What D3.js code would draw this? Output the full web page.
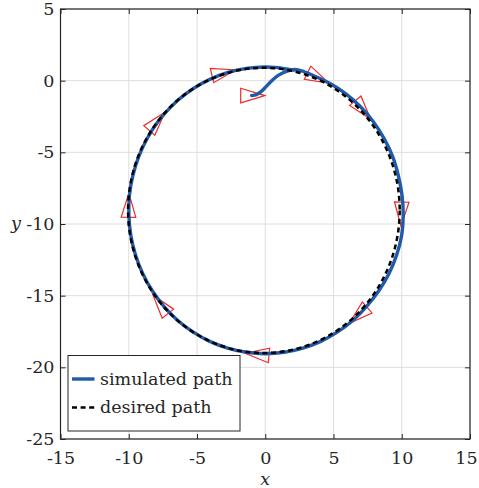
<!DOCTYPE html>
<html>
<head>
<meta charset="utf-8">
<script src="https://cdn.jsdelivr.net/npm/d3@7"></script>
<style>
  body { margin: 0; background: #fff; }
  text { font-family: "DejaVu Serif", "Liberation Serif", serif; }
</style>
</head>
<body>
<script>
// axis ticks
var xTicks = [-15, -10, -5, 0, 5, 10, 15];
var yTicks = [-25, -20, -15, -10, -5, 0, 5];

// desired path is a circle
var desiredCenter = [-0.1, -9.05];
var desiredRadius = 9.95;

// simulated path
var simX = [-1.0, -0.65, -0.35, 0.0, 0.4, 0.8, 1.2, 1.6, 2.1, 2.6, 3.44, 4.72, 5.91, 6.98, 7.92, 8.70,
            9.33, 9.75, 10.02, 10.11, 9.99, 9.62, 9.06, 8.32, 7.43, 6.43, 5.30, 4.07, 2.76, 1.39, 0,
            -1.39, -2.76, -4.07, -5.30, -6.43, -7.43, -8.29, -8.99, -9.51, -9.85, -9.99, -9.95, -9.70,
            -9.27, -8.66, -7.88, -6.95, -5.88, -4.69, -3.42, -2.08, -0.70, 0.70, 2.08];
var simY = [-1.04, -0.97, -0.80, -0.48, -0.08, 0.27, 0.50, 0.66, 0.78, 0.70, 0.39, -0.18, -0.92, -1.82, -2.86, -4.03,
            -5.28, -6.62, -8.00, -9.40, -10.81, -12.18, -13.47, -14.66, -15.74, -16.71, -17.53, -18.19, -18.66, -18.95, -19.05,
            -18.95, -18.66, -18.19, -17.53, -16.71, -15.74, -14.64, -13.43, -12.14, -10.79, -9.40, -8.00, -6.63,
            -5.30, -4.05, -2.89, -1.86, -0.96, -0.22, 0.35, 0.73, 0.93, 0.93, 0.73];

// vehicle snapshots: nose position and heading in degrees
var poseX = [-0.04, -2.19, 4.68, 7.72, 9.94, 6.15, -1.48, -8.23, -9.99, -7.35];
var poseY = [-1.04, 0.75, -0.18, -2.69, -10.14, -16.93, -19.02, -14.95, -7.85, -2.20];
var poseHeading = [0, 13, -25, -49, -92, -140, 175, 130, 89, 48];

var legendLabels = ["simulated path", "desired path"];

var W = 479, H = 488;
var plot = {left: 60.5, right: 470, top: 9, bottom: 439};
var blue = "#215aa8";
var dash = "5,3.6";

var svg = d3.select("body").append("svg")
    .attr("width", W)
    .attr("height", H);

var x = d3.scaleLinear().domain([-15, 15]).range([plot.left, plot.right]);
var y = d3.scaleLinear().domain([-25, 5]).range([plot.bottom, plot.top]);

// grid
var grid = svg.append("g").attr("stroke", "#dedede").attr("stroke-width", 1);
grid.selectAll(".gx").data(xTicks).enter().append("line")
    .attr("x1", d => x(d)).attr("x2", d => x(d))
    .attr("y1", plot.top).attr("y2", plot.bottom);
grid.selectAll(".gy").data(yTicks).enter().append("line")
    .attr("y1", d => y(d)).attr("y2", d => y(d))
    .attr("x1", plot.left).attr("x2", plot.right);

// vehicle triangles (screen size fixed)
var triLen = 24, triHalf = 7.3;
var kx = x(1) - x(0), ky = y(0) - y(1);
var poses = poseX.map((px, i) => ({x: px, y: poseY[i], h: poseHeading[i]}));
svg.append("g").selectAll("path").data(poses).enter().append("path")
    .attr("d", function(d) {
        var a = d.h * Math.PI / 180;
        var dx = Math.cos(a) * kx, dy = -Math.sin(a) * ky;
        var n = Math.sqrt(dx * dx + dy * dy);
        dx /= n; dy /= n;
        var tx = x(d.x), ty = y(d.y);
        var bx = tx - dx * triLen, by = ty - dy * triLen;
        return "M" + tx + "," + ty +
               "L" + (bx - dy * triHalf) + "," + (by + dx * triHalf) +
               "L" + (bx + dy * triHalf) + "," + (by - dx * triHalf) + "Z";
    })
    .attr("fill", "none")
    .attr("stroke", "#ee2a2a")
    .attr("stroke-width", 1.2)
    .attr("stroke-linejoin", "miter");

// simulated path
var sim = simX.map((v, i) => [v, simY[i]]);
svg.append("path")
    .datum(sim)
    .attr("d", d3.line().x(d => x(d[0])).y(d => y(d[1])).curve(d3.curveCatmullRom))
    .attr("fill", "none")
    .attr("stroke", blue)
    .attr("stroke-width", 3.4)
    .attr("stroke-linecap", "round");

// desired path
svg.append("ellipse")
    .attr("cx", x(desiredCenter[0]))
    .attr("cy", y(desiredCenter[1]))
    .attr("rx", x(desiredRadius) - x(0))
    .attr("ry", y(0) - y(desiredRadius))
    .attr("fill", "none")
    .attr("stroke", "#000")
    .attr("stroke-width", 2.5)
    .attr("stroke-dasharray", dash);

// axes with inward ticks
function styleAxis(g) {
    g.select(".domain").remove();
    g.selectAll(".tick line").attr("stroke", "#262626");
    g.selectAll("text").attr("font-size", "17.5px").attr("fill", "#262626");
}
var fmt = d => String(d);
svg.append("g").attr("transform", "translate(0," + plot.bottom + ")")
    .call(d3.axisBottom(x).tickValues(xTicks).tickFormat(fmt).tickSize(-5).tickSizeOuter(0).tickPadding(13))
    .call(styleAxis)
    .selectAll(".tick text").filter(d => d === 15).attr("dx", -4);
svg.append("g").attr("transform", "translate(0," + plot.top + ")")
    .call(d3.axisTop(x).tickValues(xTicks).tickFormat("").tickSize(-5).tickSizeOuter(0))
    .call(styleAxis);
svg.append("g").attr("transform", "translate(" + plot.left + ",0)")
    .call(d3.axisLeft(y).tickValues(yTicks).tickFormat(fmt).tickSize(-5).tickSizeOuter(0).tickPadding(6))
    .call(styleAxis);
svg.append("g").attr("transform", "translate(" + plot.right + ",0)")
    .call(d3.axisRight(y).tickValues(yTicks).tickFormat("").tickSize(-5).tickSizeOuter(0))
    .call(styleAxis);

svg.append("rect")
    .attr("x", plot.left).attr("y", plot.top)
    .attr("width", plot.right - plot.left).attr("height", plot.bottom - plot.top)
    .attr("fill", "none").attr("stroke", "#262626").attr("stroke-width", 1.2);

// axis labels
svg.append("text").attr("x", (plot.left + plot.right) / 2).attr("y", 485)
    .attr("text-anchor", "middle").attr("font-style", "italic")
    .attr("font-size", "17.5px").attr("fill", "#262626").text("x");
svg.append("text").attr("x", 16).attr("y", 229)
    .attr("text-anchor", "middle").attr("font-style", "italic")
    .attr("font-size", "17.5px").attr("fill", "#262626").text("y");

// legend
var lg = svg.append("g");
lg.append("rect")
    .attr("x", 68).attr("y", 355.5).attr("width", 172).attr("height", 75.5)
    .attr("fill", "#fff").attr("stroke", "#262626").attr("stroke-width", 1);
var rows = lg.selectAll(".row").data(legendLabels).enter().append("g")
    .attr("transform", (d, i) => "translate(0," + (379 + i * 28.5) + ")");
rows.append("line")
    .attr("x1", 72).attr("x2", 94.5)
    .attr("stroke", (d, i) => i === 0 ? blue : "#000")
    .attr("stroke-width", (d, i) => i === 0 ? 3.4 : 2.5)
    .attr("stroke-dasharray", (d, i) => i === 0 ? null : dash);
rows.append("text")
    .attr("x", 100).attr("y", 5.5)
    .attr("font-size", "17.5px").attr("fill", "#262626")
    .text(d => d);
</script>
</body>
</html>
